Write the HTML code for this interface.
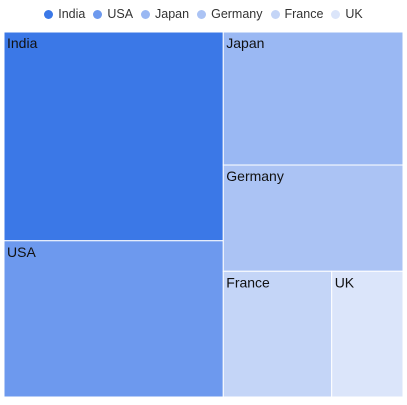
<!DOCTYPE html>
<html><head><meta charset="utf-8"><style>
body{margin:0;width:407px;height:405px;background:#fff;font-family:"Liberation Sans",Roboto,sans-serif;overflow:hidden}
#legend{position:absolute;top:7px;left:0;width:407px;text-align:center;font-size:12.5px;color:#333;white-space:nowrap}
.li{display:inline-block;margin:0 4px}
.dot{display:inline-block;width:9px;height:9px;border-radius:50%;margin-right:5px;vertical-align:-1px}
svg{position:absolute;left:0;top:0}
</style></head><body>
<div id="legend"></div>
<svg id="chart" width="407" height="405"></svg>
<script>
const categories=["India","USA","Japan","Germany","France","UK"];
const values=[31.4,23.5,16.4,13.1,9.35,6.15];
const colors=["#3b78e7","#6d99ee","#9ab8f3","#abc3f4","#c4d5f7","#dbe5fa"];
const X0=4,Y0=32,W=399,H=365;
const leg=document.getElementById('legend');
categories.forEach((c,i)=>{
 const s=document.createElement('span');s.className='li';
 
 
 s.innerHTML='<span class="dot" style="background:'+colors[i]+'"></span>'+c;
 leg.appendChild(s);
});
const total=values.reduce((a,b)=>a+b,0);
const areas=values.map(v=>v/total*W*H);
function worst(row,side){const s=row.reduce((a,b)=>a+b,0);const w=s/side;let m=0;row.forEach(a=>{const h=a/w;m=Math.max(m,Math.max(w/h,h/w));});return m;}
const rects=[];
let rx=X0,ry=Y0,rw=W,rh=H,i=0;
while(i<areas.length){
 const side=Math.min(rw,rh);let row=[areas[i]];let j=i+1;
 while(j<areas.length&&worst(row.concat(areas[j]),side)<=worst(row,side)){row.push(areas[j]);j++;}
 const s=row.reduce((a,b)=>a+b,0);
 if(rw>=rh){const w=s/rh;let y=ry;row.forEach((a,k)=>{const h=a/w;rects.push([rx,y,w,h,i+k]);y+=h;});rx+=w;rw-=w;}
 else{const h=s/rw;let x=rx;row.forEach((a,k)=>{const w=a/h;rects.push([x,ry,w,h,i+k]);x+=w;});ry+=h;rh-=h;}
 i=j;
}
const svg=document.getElementById('chart');const NS='http://www.w3.org/2000/svg';
rects.forEach(([x,y,w,h,k])=>{
 const r=document.createElementNS(NS,'rect');
 r.setAttribute('x',x);r.setAttribute('y',y);r.setAttribute('width',w);r.setAttribute('height',h);
 r.setAttribute('fill',colors[k]);r.setAttribute('stroke','#fff');r.setAttribute('stroke-width','1');
 
 
 svg.appendChild(r);
 const t=document.createElementNS(NS,'text');
 t.setAttribute('x',x+3);t.setAttribute('y',y+16);t.setAttribute('font-size','14');t.setAttribute('fill','#111');
 t.setAttribute('font-family','Liberation Sans, sans-serif');
 t.textContent=categories[k];
 
 
 svg.appendChild(t);
});
</script>
</body></html>
